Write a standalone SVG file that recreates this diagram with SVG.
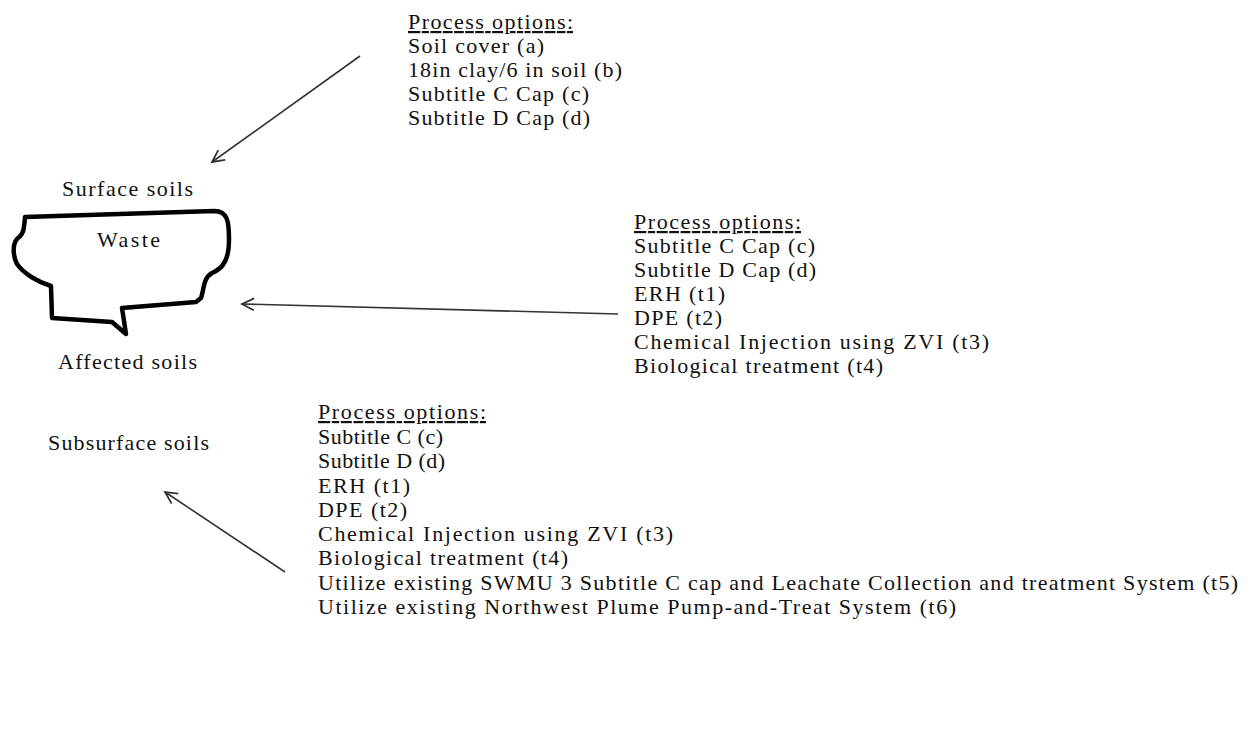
<svg xmlns="http://www.w3.org/2000/svg" width="1258" height="731" viewBox="0 0 1258 731">
<style>
text{font-family:"Liberation Serif","Times New Roman",serif;font-size:22px;fill:#111}
.u{text-decoration:underline}
.conn{stroke:#333;stroke-width:1.6;fill:none}
</style>
<defs>
<marker id="ah" markerWidth="18" markerHeight="18" refX="15" refY="8" orient="auto" markerUnits="userSpaceOnUse">
<path d="M3 2 L15 8 L3 14" fill="none" stroke="#333" stroke-width="1.8"/>
</marker>
</defs>
<rect width="1258" height="731" fill="#fff"/>
<g id="waste">
<path d="M25 217 L214 211 C228 211 229 222 229 240 C229 258 224 268 212 273 C203 278 204 290 201 298 L196 302 L122 308 L126 334 L112 322 L52 318 L51 286 C38 282 24 274 17 264 C12 254 13 242 18 238 C24 234 24 228 25 217 Z" fill="#fff" stroke="#000" stroke-width="4.5" stroke-linejoin="round"/>
<text x="97" y="247" textLength="63" lengthAdjust="spacing">Waste</text>
</g>
<g id="surface"><text x="62" y="196" textLength="131" lengthAdjust="spacing">Surface soils</text></g>
<g id="affected"><text x="58" y="369" textLength="139" lengthAdjust="spacing">Affected soils</text></g>
<g id="subsurface"><text x="48" y="450" textLength="161" lengthAdjust="spacing">Subsurface soils</text></g>
<g id="opts1">
<text class="u" x="408" y="29" textLength="165" lengthAdjust="spacing">Process options:</text>
<text x="408" y="53" textLength="136" lengthAdjust="spacing">Soil cover (a)</text>
<text x="408" y="77" textLength="214" lengthAdjust="spacing">18in clay/6 in soil (b)</text>
<text x="408" y="101" textLength="181" lengthAdjust="spacing">Subtitle C Cap (c)</text>
<text x="408" y="125" textLength="182" lengthAdjust="spacing">Subtitle D Cap (d)</text>
</g>
<g id="opts2">
<text class="u" x="634" y="229" textLength="167" lengthAdjust="spacing">Process options:</text>
<text x="634" y="253" textLength="181" lengthAdjust="spacing">Subtitle C Cap (c)</text>
<text x="634" y="277" textLength="182" lengthAdjust="spacing">Subtitle D Cap (d)</text>
<text x="634" y="301" textLength="91" lengthAdjust="spacing">ERH (t1)</text>
<text x="634" y="325" textLength="88" lengthAdjust="spacing">DPE (t2)</text>
<text x="634" y="349" textLength="355" lengthAdjust="spacing">Chemical Injection using ZVI (t3)</text>
<text x="634" y="373" textLength="249" lengthAdjust="spacing">Biological treatment (t4)</text>
</g>
<g id="opts3">
<text class="u" x="318" y="419" textLength="168" lengthAdjust="spacing">Process options:</text>
<text x="318" y="444" textLength="125" lengthAdjust="spacing">Subtitle C (c)</text>
<text x="318" y="468" textLength="127" lengthAdjust="spacing">Subtitle D (d)</text>
<text x="318" y="493" textLength="92" lengthAdjust="spacing">ERH (t1)</text>
<text x="318" y="517" textLength="89" lengthAdjust="spacing">DPE (t2)</text>
<text x="318" y="541" textLength="355" lengthAdjust="spacing">Chemical Injection using ZVI (t3)</text>
<text x="318" y="565" textLength="250" lengthAdjust="spacing">Biological treatment (t4)</text>
<text x="318" y="590" textLength="920" lengthAdjust="spacing">Utilize existing SWMU 3 Subtitle C cap and Leachate Collection and treatment System (t5)</text>
<text x="318" y="614" textLength="638" lengthAdjust="spacing">Utilize existing Northwest Plume Pump-and-Treat System (t6)</text>
</g>
<g id="connectors">
<line class="conn" x1="360" y1="56" x2="212" y2="162" marker-end="url(#ah)"/>
<line class="conn" x1="618" y1="314" x2="242" y2="304" marker-end="url(#ah)"/>
<line class="conn" x1="285" y1="572" x2="165" y2="492" marker-end="url(#ah)"/>
</g>
</svg>
